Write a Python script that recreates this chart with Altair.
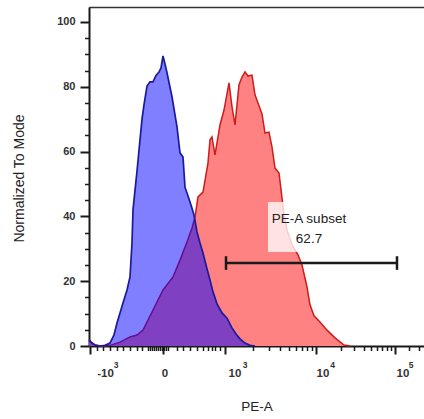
import altair as alt
import pandas as pd

# Histogram of PE-A on a biexponential display (x in display channels 0..335)
blue_pos = [0, 3, 6, 11, 16, 21, 25, 28, 31, 34, 38, 41, 43, 44, 46, 48, 51, 53, 55, 58,
            61, 64, 67, 70, 72, 74, 76, 78, 83, 88, 91, 94, 96, 99, 102, 105, 108, 111, 114, 117,
            121, 124, 128, 133, 138, 143, 147, 151, 156, 161, 166]
blue_val = [1.9, 0.9, 0.3, 0, 0.2, 0.9, 3.4, 7.1, 10.2, 13.3, 17.3, 21.3, 31.8, 42, 48, 54, 63.6, 70, 74.4, 80.2,
            81.5, 81.5, 83.5, 84.5, 85.8, 89.5, 87, 84.3, 76.9, 67.6, 59.6, 58.3, 49, 46.3, 43.5, 40.4, 35.2, 31.8, 28.7, 25,
            20.4, 16.7, 13, 10.2, 8.6, 5.6, 3.7, 2.2, 0.9, 0.2, 0]

red_pos = [0, 3, 6, 12, 21, 31, 41, 48, 54, 64, 74, 84, 91, 98, 103, 106, 109, 114, 119, 121,
           123, 126, 131, 135, 140, 143, 146, 150, 153, 156, 159, 163, 166, 170, 173, 176, 180, 183, 186, 190,
           193, 195, 198, 203, 209, 213, 218, 221, 225, 231, 238, 246, 255, 261]
red_val = [1.5, 1, 0.3, 0, 0.2, 1.2, 2.8, 3.4, 4.9, 11.1, 17.3, 21.3, 26.5, 32.1, 36.4, 39.8, 46, 47.5, 56.5, 63.6,
           64.5, 59, 68.2, 72.8, 81.2, 73.8, 68.2, 80.6, 83, 84.6, 83.3, 83.6, 77.5, 74.1, 71.6, 65.7, 66, 61.4, 54.9, 53.4,
           45.7, 40.4, 35.8, 31.2, 28.1, 25, 18.2, 12.7, 9.3, 7.4, 4.9, 2.5, 0.3, 0]

# Axis ticks (display channels) and labels: mantissa and raised exponent
x_major = [1, 74, 136, 227, 306]
x_minor = [8, 14, 21, 28, 34, 41, 48, 53,
           59, 61, 63, 65, 67, 69, 71, 73, 75, 77, 79,
           88, 94, 101, 108, 114, 119, 123, 126, 131,
           164, 180, 191, 200, 207, 213, 218, 223,
           252, 265, 275, 282, 288, 293, 298, 302, 320, 330]
x_base_pos = [16, 75.5, 145.5, 233.5, 313.5]
x_base_txt = ["-10", "0", "10", "10", "10"]
x_exp_pos = [26.5, 155.5, 243, 321.5]
x_exp_txt = ["3", "3", "4", "5"]
y_major = [0, 20, 40, 60, 80, 100]
y_minor = [5, 10, 15, 25, 30, 35, 45, 50, 55, 65, 70, 75, 85, 90, 95]

# Gate "PE-A subset"
gate_name = "PE-A subset"
gate_pct = "62.7"
gate_lo, gate_hi, gate_level = 137, 308, 25.6

FONT = "Liberation Sans"
INK = "#1a1a1a"
LBL = "#333333"

blue = pd.DataFrame({"x": blue_pos, "y": blue_val})
red = pd.DataFrame({"x": red_pos, "y": red_val})

xs = alt.Scale(domain=[0, 335], nice=False, zero=False)
ys = alt.Scale(domain=[0, 104.6], nice=False, zero=False)


def lookup_expr(pos, txt):
    return " : ".join(f"datum.value == {p} ? '{t}'" for p, t in zip(pos, txt)) + " : ''"


ax_major_x = alt.Axis(orient="bottom", values=x_major, labels=False, tickSize=8, tickWidth=2,
                      tickColor=INK, domainColor=INK, domainWidth=2, grid=False, title=None)
ax_minor_x = alt.Axis(orient="bottom", values=x_minor, labels=False, tickSize=4.5, tickWidth=1.5,
                      tickColor=INK, domain=False, grid=False, title=None)
ax_base_x = alt.Axis(orient="bottom", values=x_base_pos, labelExpr=lookup_expr(x_base_pos, x_base_txt),
                     ticks=False, domain=False, grid=False, labelPadding=21, labelFont=FONT,
                     labelFontSize=11.5, labelColor=LBL, labelFontWeight="bold", title="PE-A",
                     titleFont=FONT, titleFontSize=13.5, titleFontWeight="normal", titleColor="#222",
                     titleY=64, titleBaseline="alphabetic")
ax_exp_x = alt.Axis(orient="bottom", values=x_exp_pos, labelExpr=lookup_expr(x_exp_pos, x_exp_txt),
                    ticks=False, domain=False, grid=False, labelPadding=14, labelFont=FONT,
                    labelFontSize=8.5, labelColor=LBL, labelFontWeight="bold", title=None)
ax_top = alt.Axis(orient="top", values=[], labels=False, ticks=False, domainColor="#333",
                  domainWidth=1.5, grid=False, title=None)

ax_major_y = alt.Axis(orient="left", values=y_major, tickSize=9, tickWidth=2, tickColor=INK,
                      domainColor=INK, domainWidth=2, grid=False, labelPadding=5, labelFont=FONT,
                      labelFontSize=11, labelColor=LBL, labelFontWeight="bold",
                      title="Normalized To Mode", titleFont=FONT, titleFontSize=14,
                      titleFontWeight="normal", titleColor="#222", titleX=-66, titleY=171,
                      titleBaseline="alphabetic")
ax_minor_y = alt.Axis(orient="left", values=y_minor, labels=False, tickSize=4.5, tickWidth=1.5,
                      tickColor=INK, domain=False, grid=False, title=None)

red_area = alt.Chart(red).mark_area(color="#ff8282", opacity=1).encode(
    x=alt.X("x:Q", scale=xs, axis=ax_major_x),
    y=alt.Y("y:Q", scale=ys, axis=ax_major_y),
)
red_line = alt.Chart(red).mark_line(color="#cc1c1c", strokeWidth=1.5).encode(
    x=alt.X("x:Q", scale=xs, axis=ax_minor_x),
    y=alt.Y("y:Q", scale=ys, axis=ax_minor_y),
)
blue_area = alt.Chart(blue).mark_area(color="#0000ff", opacity=0.5).encode(
    x=alt.X("x:Q", scale=xs, axis=ax_base_x),
    y=alt.Y("y:Q", scale=ys, axis=None),
)
blue_line = alt.Chart(blue).mark_line(color="#1a1a9a", strokeWidth=1.7).encode(
    x=alt.X("x:Q", scale=xs, axis=ax_top),
    y=alt.Y("y:Q", scale=ys, axis=None),
)

# Label backdrop, gate bar and caps
box_df = pd.DataFrame({"x": [179], "x2": [263], "y": [29.0], "y2": [44.4]})
backdrop = alt.Chart(box_df).mark_rect(color="white", opacity=0.78).encode(
    x=alt.X("x:Q", scale=xs, axis=ax_exp_x), x2="x2:Q",
    y=alt.Y("y:Q", scale=ys, axis=None), y2="y2:Q",
)
bar_df = pd.DataFrame({"x": [gate_lo], "x2": [gate_hi], "y": [gate_level]})
bar = alt.Chart(bar_df).mark_rule(color=INK, strokeWidth=2.5).encode(
    x=alt.X("x:Q", scale=xs, axis=None), x2="x2:Q",
    y=alt.Y("y:Q", scale=ys, axis=None),
)
caps_df = pd.DataFrame({"x": [gate_lo, gate_hi], "y": [gate_level - 2.1] * 2, "y2": [gate_level + 2.1] * 2})
caps = alt.Chart(caps_df).mark_rule(color=INK, strokeWidth=2.5).encode(
    x=alt.X("x:Q", scale=xs, axis=None),
    y=alt.Y("y:Q", scale=ys, axis=None), y2="y2:Q",
)
text_df = pd.DataFrame({"x": [220, 220], "y": [38.0, 31.8], "t": [gate_name, gate_pct]})
gate_text = alt.Chart(text_df).mark_text(font=FONT, fontSize=13.5, color="#222",
                                         align="center", baseline="alphabetic").encode(
    x=alt.X("x:Q", scale=xs, axis=None),
    y=alt.Y("y:Q", scale=ys, axis=None),
    text="t:N",
)

chart = alt.layer(
    red_area, red_line, blue_area, blue_line, backdrop, bar, caps, gate_text
).resolve_axis(x="independent", y="independent").properties(
    width=335, height=339,
    autosize=alt.AutoSizeParams(type="none"),
    padding={"left": 89, "top": 7, "right": 0, "bottom": 73},
).configure_view(stroke=None).configure(background="white")

chart.save("out.html", embed_options={"renderer": "svg", "actions": False})
